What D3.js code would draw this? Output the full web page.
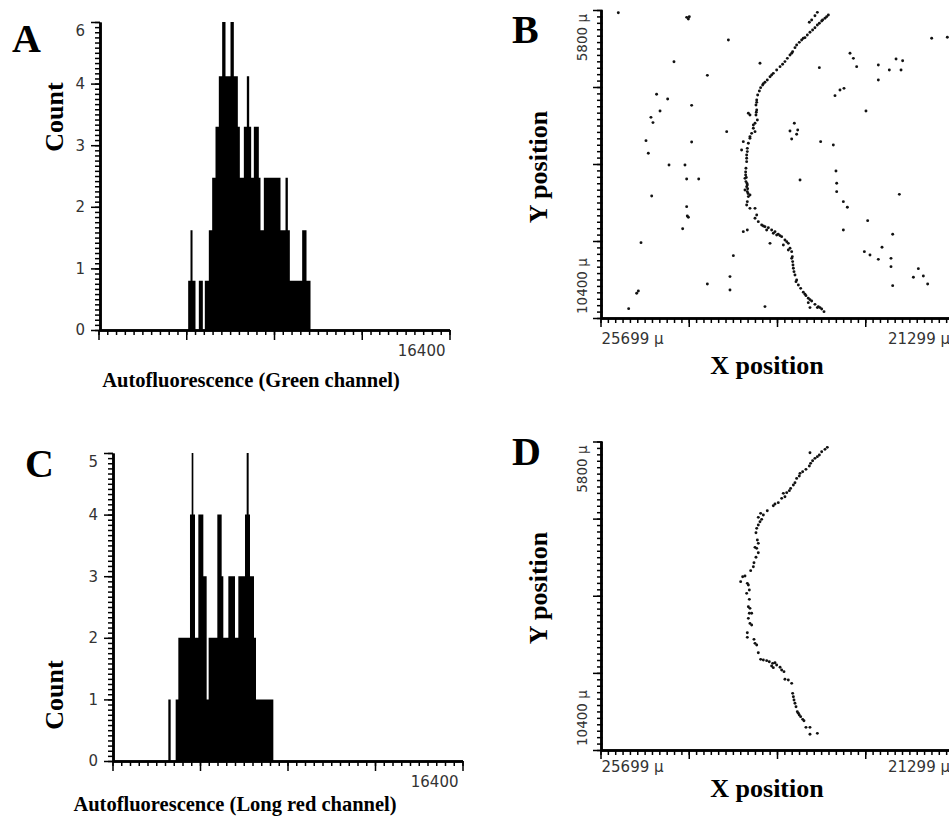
<!DOCTYPE html>
<html>
<head>
<meta charset="utf-8">
<script src="https://cdn.jsdelivr.net/npm/d3@7"></script>
<style>
  body { margin: 0; background: #fff; }
  svg { display: block; }
</style>
</head>
<body>
<svg id="fig" width="949" height="817"></svg>
<script>
// Histogram A (green channel): step edges in fluorescence units, heights in axis units
const greenEdges = [4190, 4299, 4393, 4532, 4688, 4875, 4968, 5155, 5311, 5467, 5622, 5778, 5934,
  6168, 6323, 6510, 6604, 6791, 6931, 7040, 7133, 7258, 7491, 7569, 7725, 8504, 8738, 8847, 8940,
  9516, 9719, 9906];
const greenCounts = [0.8, 1.62, 0.8, 0, 0.8, 0, 0.8, 1.62, 2.47, 3.3, 4.12, 5, 4.12, 5, 4.12, 3.3,
  2.47, 3.3, 4.12, 3.3, 2.47, 3.3, 2.47, 1.62, 2.47, 1.62, 2.47, 1.62, 0.8, 1.62, 0.8];

// Histogram C (long red channel)
const redEdges = [2616, 2726, 2960, 3085, 3631, 3710, 3788, 3866, 4022, 4256, 4412, 4505, 4912,
  5115, 5193, 5428, 5740, 5896, 6209, 6287, 6380, 6443, 6630, 6724, 7536];
const redCounts = [1, 0, 1, 2, 4, 5, 4, 2, 4, 3, 1, 2, 4, 3, 2, 3, 2, 3, 4, 5, 4, 3, 2, 1];

const fluorMax = 16400;
const countMax = 5;
const countTicks = [0, 1, 2, 3, 4, 5];
const greenCountLabels = ["0", "1", "2", "3", "4", "6"];
const redCountLabels = ["0", "1", "2", "3", "4", "5"];

const xPosRange = [25699, 21299];
const yPosRange = [5800, 10400];

// Panel B: all detected cells, [x µ, y µ]
const cellsAll = [
  [22859,5874],[22901,5924],[22942,5964],[22971,5999],[22996,6024],[23026,6064],[23055,6099],
  [23088,6133],[23121,6173],[23150,6213],[23192,6248],[23221,6283],[23254,6323],[23275,6362],
  [23304,6422],[23337,6472],[23370,6522],[23400,6571],[23429,6611],[23461,6646],[23503,6696],
  [23545,6746],[23586,6796],[23620,6845],[23649,6880],[23678,6920],[23703,6960],[23719,7010],
  [23740,7069],[23752,7144],[23761,7219],[23752,7293],[23761,7368],[23744,7443],[23773,7492],
  [23794,7567],[23815,7642],[23836,7716],[23856,7791],[23869,7866],[23877,7965],[23877,8065],
  [23886,8164],[23890,8264],[23886,8363],[23877,8438],[23869,8513],[23856,8587],[23869,8662],
  [23877,8712],[23836,8762],[23773,8762],[23752,8861],[23773,8911],[23732,8961],[23690,9011],
  [23649,9036],[23607,9051],[23566,9085],[23524,9110],[23483,9150],[23441,9185],[23400,9235],
  [23358,9285],[23337,9359],[23316,9409],[23304,9558],[23295,9658],[23275,9757],[23254,9832],
  [23233,9907],[23204,9957],[23171,10016],[23138,10066],[23109,10106],[23067,10146],[23026,10196],
  [22984,10231],[22942,10265],[22913,10305],
  [22996,5835],[23026,5885],[23067,5949],[23096,5984],[23836,7368],[23856,7343],[23794,7517],
  [23773,7617],[23919,7766],[23940,7891],[23898,8314],[23869,8413],[23898,8488],[23836,8563],
  [23919,9110],[23869,9085],[23586,9285],[23420,9309],[23358,9384],[23628,9085],[23545,9135],
  [23503,9160],[23316,9509],[23262,9857],[23150,10046],[23109,10171],[23088,10245],[22996,10245],
  [23649,10230],
  [23890,8220],[23882,8300],[23873,8390],[23865,8470],[23860,8540],[22880,5899],[22930,5949],
  [23171,6223],[23316,6447],[23566,6771],[23669,6900],[23752,7179],[23757,7328],[23836,7691],
  [23869,7915],[23877,8015],[23669,9026],[23461,9170],[23378,9260],[23308,9484],[23300,9608],
  [23287,9708],[23088,10126],[22963,10245],
  [23711,6596],[22971,6661],[23283,7492],[23337,7607],[23241,7592],[23254,7656],[23316,7726],
  [22955,7766],[22797,7816],[23212,8339],[22764,8204],[22755,8388],[22755,8513],[22672,8662],
  [22622,8747],[22672,9085],[22589,6447],[22547,6522],[22506,6646],[22776,7079],[22714,6995],
  [22664,6970],[24043,9469],
  [25477,5840],[24625,5910],[24604,5934],[24592,5900],[24105,6248],[21571,6223],[21376,6208],
  [24783,6572],[24367,6776],[22236,6621],[22236,6845],[22099,6696],[22015,6532],[21933,6557],
  [21953,6696],[25000,7059],[24862,7129],[24957,7308],[24563,7224],[22390,7308],[25070,7403],
  [25045,7482],[24126,7617],[25132,7751],[24563,7771],[25103,7940],[24845,8115],[24646,8115],
  [24625,8324],[24475,8324],[25061,8578],[21974,8553],[24625,8737],[24617,8876],[24604,8896],
  [24675,9066],[22369,8946],[22057,9150],[25194,9275],[22410,9409],[22340,9459],[22190,9344],
  [22236,9524],[22078,9509],[22078,9633],[21737,9663],[21799,9792],[21675,9773],[21621,9892],
  [22057,9917],[24367,9892],[24085,9782],[24085,9981],[25227,9996],[25248,10031],[25348,10260]
];

// Panel D: gated cells only
const cellsGated = [
  [22872,5887],[22901,5917],[23088,5967],[22996,6026],[23026,6051],[23055,6086],[23080,6126],
  [23096,6165],[23138,6215],[23179,6250],[23212,6275],[23221,6315],[23275,6414],[23295,6449],
  [23329,6499],[23345,6533],[23420,6573],[23400,6623],[23441,6648],[23483,6712],[23524,6732],
  [23545,6757],[23620,6832],[23703,6871],[23732,6931],[23690,6961],[23711,6996],[23732,7045],
  [23752,7095],[23761,7160],[23744,7269],[23732,7319],[23773,7378],[23752,7393],[23732,7458],
  [23761,7527],[23786,7607],[23827,7726],[23898,7806],[23927,7816],[23952,7890],[23869,7915],
  [23856,7940],[23844,8015],[23844,8154],[23856,8263],[23836,8288],[23815,8362],[23856,8437],
  [23836,8512],[23815,8536],[23869,8651],[23869,8720],[23786,8750],[23773,8810],[23752,8835],
  [23732,8949],[23703,9048],[23669,9058],[23628,9068],[23595,9083],[23553,9108],[23524,9098],
  [23566,9148],[23545,9172],[23461,9167],[23441,9207],[23412,9232],[23400,9346],[23358,9356],
  [23316,9406],[23304,9555],[23295,9605],[23275,9704],[23262,9754],[23246,9828],[23221,9878],
  [23204,9903],[23179,9943],[23163,9963],[23138,10062],[23088,10062],[23088,10166],[22996,10152],
  [22942,5952],[22971,6001],[23254,6350],[23378,6563],[23669,6896],[23794,7667],[23877,8064],
  [23844,8362],[23503,9133],[23287,9654],[23233,9853]
];

const svg = d3.select("#fig");
const serif = "'Liberation Serif', 'Times New Roman', serif";
const sans = "'DejaVu Sans', Verdana, sans-serif";

function styleAxis(g, domainWidth) {
  g.select(".domain").attr("stroke", "#000").attr("stroke-width", domainWidth);
  g.selectAll(".tick line").attr("stroke", "#000").attr("stroke-width", 1.5);
  g.selectAll(".tick text").attr("font-family", sans).attr("font-size", 15).attr("fill", "#333");
}

function drawHistogram(o) {
  const x = d3.scaleLinear().domain([0, fluorMax]).range([o.left, o.right]);
  const y = d3.scaleLinear().domain([0, countMax]).range([o.bottom, o.top]);
  const g = svg.append("g");

  // one step-shaped area per histogram, so neighbouring bins do not show seams
  const steps = o.edges.map((e, i) => ({ v: e, c: i < o.counts.length ? o.counts[i] : 0 }));
  const area = d3.area()
    .curve(d3.curveStepAfter)
    .x((d) => x(d.v))
    .y0(y(0))
    .y1((d) => y(d.c));

  g.append("path")
    .datum(steps)
    .attr("d", area)
    .attr("fill", "#000");

  // x axis: minor and major ticks, no labels except the end value
  const xMinor = g.append("g")
    .attr("transform", `translate(0,${o.bottom})`)
    .call(d3.axisBottom(x).tickValues(d3.range(41).map((i) => (i * fluorMax) / 40))
      .tickSize(5).tickSizeOuter(0).tickFormat(""));
  styleAxis(xMinor, 2.5);
  const xMajor = g.append("g")
    .attr("transform", `translate(0,${o.bottom})`)
    .call(d3.axisBottom(x).tickValues(d3.range(5).map((i) => (i * fluorMax) / 4))
      .tickSize(10).tickSizeOuter(0).tickFormat(""));
  styleAxis(xMajor, 2.5);

  g.append("text")
    .attr("x", x(fluorMax) - 4)
    .attr("y", o.bottom + 26)
    .attr("text-anchor", "end")
    .attr("font-family", sans)
    .attr("font-size", 15)
    .attr("fill", "#333")
    .text(fluorMax);

  // y axis
  const yMinor = g.append("g")
    .attr("transform", `translate(${o.axisX},0)`)
    .call(d3.axisLeft(y).tickValues(d3.range(countMax * 12 + 1).map((i) => i / 12))
      .tickSize(5).tickSizeOuter(0).tickFormat(""));
  styleAxis(yMinor, 2.5);
  const yMajor = g.append("g")
    .attr("transform", `translate(${o.axisX},0)`)
    .call(d3.axisLeft(y).tickValues(countTicks).tickSize(9).tickPadding(6).tickSizeOuter(0)
      .tickFormat((d, i) => o.labels[i]));
  styleAxis(yMajor, 2.5);
  yMajor.selectAll(".tick text")
    .attr("dy", (d, i) => (i === countTicks.length - 1 ? "0.88em" : "0.32em"));

  // titles
  g.append("text")
    .attr("transform", `translate(63,${o.countY}) rotate(-90)`)
    .attr("text-anchor", "middle")
    .attr("font-family", serif)
    .attr("font-weight", "bold")
    .attr("font-size", 26)
    .text("Count");

  g.append("text")
    .attr("x", o.titleX)
    .attr("y", o.titleY)
    .attr("text-anchor", "middle")
    .attr("font-family", serif)
    .attr("font-weight", "bold")
    .attr("font-size", 20.5)
    .text(o.title);

  g.append("text")
    .attr("x", o.letterX)
    .attr("y", o.letterY)
    .attr("font-family", serif)
    .attr("font-weight", "bold")
    .attr("font-size", 40)
    .text(o.letter);
}

function drawScatter(o) {
  const x = d3.scaleLinear().domain(xPosRange).range([600.5, 953.5]);
  const y = d3.scaleLinear().domain(yPosRange).range([o.top, o.bottom]);
  const g = svg.append("g");

  g.selectAll("circle")
    .data(o.cells)
    .join("circle")
    .attr("cx", (d) => x(d[0]))
    .attr("cy", (d) => y(d[1]))
    .attr("r", 1.45)
    .attr("fill", "#111");

  const span = xPosRange[0] - xPosRange[1];
  const xMinor = g.append("g")
    .attr("transform", `translate(0,${o.bottom})`)
    .call(d3.axisBottom(x).tickValues(d3.range(49).map((i) => xPosRange[0] - (i * span) / 48))
      .tickSize(5).tickSizeOuter(0).tickFormat(""));
  styleAxis(xMinor, 2.5);
  const xMajor = g.append("g")
    .attr("transform", `translate(0,${o.bottom})`)
    .call(d3.axisBottom(x).tickValues(d3.range(5).map((i) => xPosRange[0] - (i * span) / 4))
      .tickSize(9).tickSizeOuter(0).tickFormat(""));
  styleAxis(xMajor, 2.5);

  const ySpan = yPosRange[1] - yPosRange[0];
  const yMinor = g.append("g")
    .attr("transform", "translate(601,0)")
    .call(d3.axisLeft(y).tickValues(d3.range(49).map((i) => yPosRange[0] + (i * ySpan) / 48))
      .tickSize(4).tickSizeOuter(0).tickFormat(""));
  styleAxis(yMinor, 2.5);
  const yMajor = g.append("g")
    .attr("transform", "translate(601,0)")
    .call(d3.axisLeft(y).tickValues(d3.range(5).map((i) => yPosRange[0] + (i * ySpan) / 4))
      .tickSize(8).tickSizeOuter(0).tickFormat(""));
  styleAxis(yMajor, 2.5);
  yMinor.selectAll(".tick line").attr("x1", 1.5);
  yMajor.selectAll(".tick line").attr("x1", 1.5);

  // end labels
  const lab = (sel) => sel.attr("font-family", sans).attr("font-size", 15).attr("fill", "#333");
  g.append("text").call(lab)
    .attr("x", x(xPosRange[0]) + 1).attr("y", o.bottom + o.xLabelDy)
    .text(xPosRange[0] + " µ");
  g.append("text").call(lab)
    .attr("x", 950).attr("y", o.bottom + o.xLabelDy)
    .attr("text-anchor", "end")
    .text(xPosRange[1] + " µ");
  g.append("text").call(lab)
    .attr("font-size", 13.5)
    .attr("transform", `translate(587,${y(yPosRange[0]) + 4}) rotate(-90)`)
    .attr("text-anchor", "end")
    .text(yPosRange[0] + " µ");
  g.append("text").call(lab)
    .attr("font-size", 13.5)
    .attr("transform", `translate(587,${y(yPosRange[1]) - 4}) rotate(-90)`)
    .attr("text-anchor", "start")
    .text(yPosRange[1] + " µ");

  g.append("text")
    .attr("transform", `translate(547,${o.yTitleY}) rotate(-90)`)
    .attr("text-anchor", "middle")
    .attr("font-family", serif)
    .attr("font-weight", "bold")
    .attr("font-size", 26)
    .text("Y position");

  g.append("text")
    .attr("x", 767)
    .attr("y", o.xTitleY)
    .attr("text-anchor", "middle")
    .attr("font-family", serif)
    .attr("font-weight", "bold")
    .attr("font-size", 26)
    .text("X position");

  g.append("text")
    .attr("x", 512)
    .attr("y", o.letterY)
    .attr("font-family", serif)
    .attr("font-weight", "bold")
    .attr("font-size", 40)
    .text(o.letter);
}

drawHistogram({
  edges: greenEdges, counts: greenCounts, labels: greenCountLabels,
  left: 98.5, right: 449.5, top: 22, bottom: 330, axisX: 100,
  countY: 117, title: "Autofluorescence (Green channel)", titleX: 251, titleY: 387,
  letter: "A", letterX: 12, letterY: 52
});

drawHistogram({
  edges: redEdges, counts: redCounts, labels: redCountLabels,
  left: 112.5, right: 462.5, top: 453, bottom: 761, axisX: 113,
  countY: 695, title: "Autofluorescence (Long red channel)", titleX: 235, titleY: 811,
  letter: "C", letterX: 25, letterY: 477
});

drawScatter({
  cells: cellsAll, top: 10, bottom: 318, xLabelDy: 26,
  yTitleY: 167, xTitleY: 374, letter: "B", letterY: 43
});

drawScatter({
  cells: cellsGated, top: 441.5, bottom: 750, xLabelDy: 22,
  yTitleY: 588, xTitleY: 797, letter: "D", letterY: 465
});
</script>
</body>
</html>
